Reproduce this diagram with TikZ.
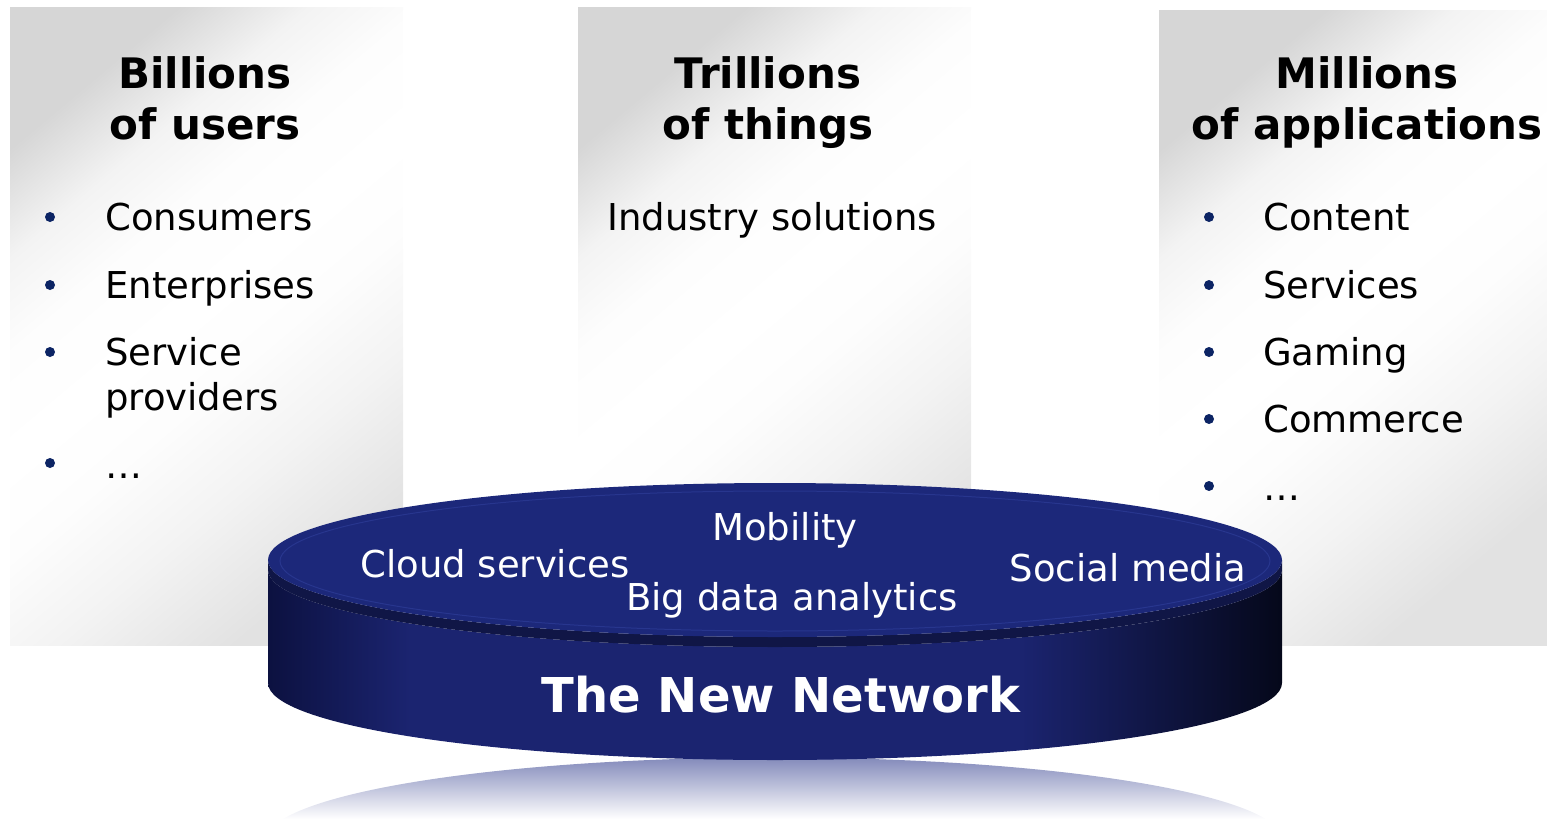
\documentclass[tikz,border=0pt]{standalone}
\usepackage{fontspec}
\setmainfont{DejaVu Sans}
\definecolor{panelgray}{RGB}{214,214,214}
\definecolor{panelmid}{RGB}{243,243,243}
\definecolor{panellight}{RGB}{226,226,226}
\definecolor{panelwhite}{RGB}{253,253,253}
\definecolor{bulletblue}{RGB}{12,36,100}
\definecolor{topnavy}{RGB}{28,40,122}
\definecolor{rimline}{RGB}{40,54,142}
\definecolor{lidside}{RGB}{16,22,70}
\definecolor{sideedge}{RGB}{12,17,64}
\definecolor{sidemid}{RGB}{27,36,112}
\definecolor{sideblack}{RGB}{5,8,26}
\definecolor{reflblue}{RGB}{112,120,176}
\pgfdeclarehorizontalshading{discside}{100bp}{color(0bp)=(sideedge); color(25bp)=(sideedge);
  color(32bp)=(sidemid); color(62bp)=(sidemid); color(75bp)=(sideblack); color(100bp)=(sideblack)}
\pgfdeclareverticalshading{panelshade}{100bp}{color(0bp)=(panellight); color(25bp)=(panellight);
  color(36bp)=(panelmid); color(45bp)=(panelwhite); color(52bp)=(white); color(60bp)=(panelwhite);
  color(67bp)=(panelmid); color(75bp)=(panelgray); color(100bp)=(panelgray)}

\begin{document}
\begin{tikzpicture}[x=1pt,y=-1pt]
    \tikzstyle{every node}+=[inner sep=0pt]
    \tikzstyle{panel}=[shading=panelshade, shading angle=40]
    \tikzstyle{heading}=[font=\fontsize{42}{51}\selectfont\bfseries, align=center, anchor=north]
    \tikzstyle{item}=[font=\fontsize{37}{45}\selectfont, align=left, anchor=base west]
    \tikzstyle{disclabel}=[font=\fontsize{37}{45}\selectfont, text=white, anchor=base]
    \useasboundingbox (0,0) rectangle (1547,819);
    % the three columns
    \shade [panel] (10,7) rectangle (403,645);
    \shade [panel] (578,7) rectangle (971,645);
    \shade [panel] (1159,10) rectangle (1547,645);
    \node [heading] (users) at (205,56) {Billions\\of users};
    \node [heading] (things) at (768,56) {Trillions\\of things};
    \node [heading] (apps) at (1367,56) {Millions\\of applications};
    % users
    \node [item] (consumers) at (105,230) {Consumers};
    \node [item] (enterprises) at (105,298) {Enterprises};
    \node [item, anchor=north west] (providers) at (105,337) {Service\\providers};
    \node [item] (moreusers) at (105,478) {…};
    \fill [bulletblue] (50,217) circle (5);
    \fill [bulletblue] (50,285) circle (5);
    \fill [bulletblue] (50,352) circle (5);
    \fill [bulletblue] (50,463) circle (5);
    % things
    \node [item, anchor=base] (industry) at (772,230) {Industry solutions};
    % applications
    \node [item] (content) at (1263,230) {Content};
    \node [item] (services) at (1263,298) {Services};
    \node [item] (gaming) at (1263,365) {Gaming};
    \node [item] (commerce) at (1263,432) {Commerce};
    \node [item] (moreapps) at (1263,500) {…};
    \fill [bulletblue] (1209,217) circle (5);
    \fill [bulletblue] (1209,285) circle (5);
    \fill [bulletblue] (1209,352) circle (5);
    \fill [bulletblue] (1209,419) circle (5);
    \fill [bulletblue] (1209,486) circle (5);
    % reflection under the disc
    \shade [top color=reflblue, bottom color=white] (283,819)
        arc [start angle=-164.5, end angle=-15.5, x radius=510, y radius=84] -- cycle;
    % the disc
    \shade [shading=discside] (268,570) -- (268,683)
        arc [start angle=180, end angle=0, x radius=507, y radius=77] -- (1282,570)
        arc [start angle=0, end angle=180, x radius=507, y radius=77] -- cycle;
    \fill [lidside] (268,560) -- (268,570)
        arc [start angle=180, end angle=0, x radius=507, y radius=77] -- (1282,560)
        arc [start angle=0, end angle=180, x radius=507, y radius=77] -- cycle;
    \fill [topnavy] (775,560) ellipse (507 and 77);
    \draw [rimline, line width=1pt] (775,561) ellipse (495 and 70);
    \node [disclabel] (mobility) at (785,540) {Mobility};
    \node [disclabel] (cloud) at (495,577) {Cloud services};
    \node [disclabel] (bigdata) at (792,610) {Big data analytics};
    \node [disclabel] (social) at (1128,581) {Social media};
    \node [disclabel, font=\fontsize{48}{54}\selectfont\bfseries] (network) at (781,712) {The New Network};
\end{tikzpicture}
\end{document}
